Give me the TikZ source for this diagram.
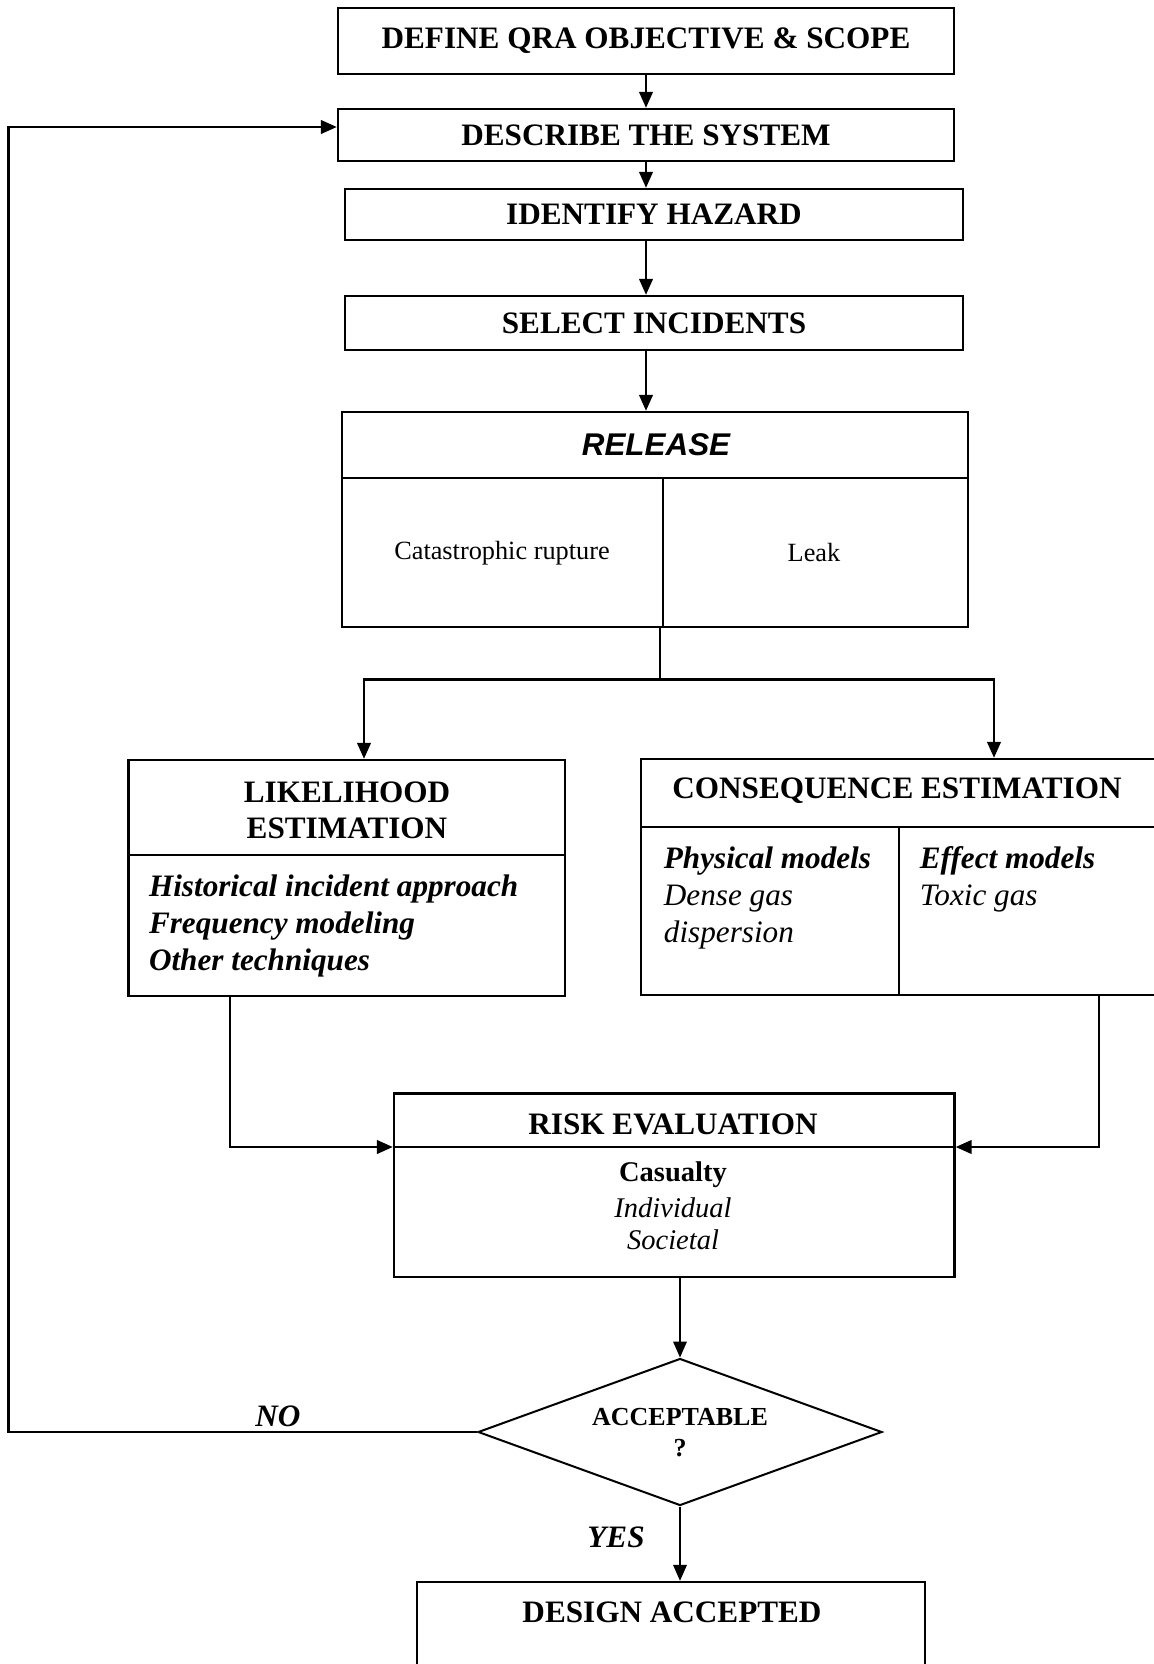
\documentclass[tikz,border=0pt]{standalone}
\usepackage{fontspec}
\setmainfont{Liberation Serif}
\newfontfamily\arialf{Liberation Sans}
\usetikzlibrary{arrows.meta,shapes.geometric}
\begin{document}
\begin{tikzpicture}[x=0.5pt,y=-0.5pt,
  box/.style={draw, line width=1.2pt, inner sep=0pt},
  big/.style={font=\fontsize{15.6}{18}\selectfont\bfseries},
  bigit/.style={font=\fontsize{15.6}{18}\selectfont\bfseries\itshape},
  itx/.style={font=\fontsize{15.6}{18}\selectfont\itshape},
  txt/.style={inner sep=0pt},
  ln/.style={line width=1.2pt},
  arr/.style={line width=1.2pt, -{Triangle[length=8pt,width=6.8pt]}},
  thinarr/.style={line width=0.9pt, -{Triangle[length=8pt,width=6.8pt]}}]
\useasboundingbox (0,0) rectangle (1153,1664);

% top chain
\node[box, minimum width=308pt, minimum height=33pt, big] (define) at (646,41) {DEFINE QRA OBJECTIVE \& SCOPE};
\node[box, minimum width=308pt, minimum height=26pt, big] (describe) at (646,135) {DESCRIBE THE SYSTEM};
\node[box, minimum width=309pt, minimum height=25.5pt, big] (identify) at (654,214.5) {IDENTIFY HAZARD};
\node[box, minimum width=309pt, minimum height=27pt, big] (select) at (654,323) {SELECT INCIDENTS};

% release
\node[box, minimum width=313pt, minimum height=107.5pt] (release) at (655,519.5) {};
\draw[ln] (release.west |- 0,478) -- (release.east |- 0,478);
\draw[ln] (663,478) -- (release.south -| 663,0);
\node[txt, font=\arialf\bfseries\itshape\fontsize{15.7}{18}\selectfont] (reltitle) at (656,445) {RELEASE};
\node[txt, font=\fontsize{13.15}{16}\selectfont] (rupt) at (502,553) {Catastrophic rupture};
\node[txt, font=\fontsize{13.15}{16}\selectfont] (leak) at (814,552) {Leak};

% likelihood
\node[box, minimum width=218.25pt, minimum height=118pt] (likeli) at (346.75,878) {};
\draw[ln] (likeli.west |- 0,855) -- (likeli.east |- 0,855);
\node[txt, big] (lt1) at (347,792) {LIKELIHOOD};
\node[txt, big] (lt2) at (347,828) {ESTIMATION};
\node[txt, bigit, anchor=base west] (l1) at (148.6,896) {Historical incident approach};
\node[txt, bigit, anchor=base west] (l2) at (148.6,933) {Frequency modeling};
\node[txt, bigit, anchor=base west] (l3) at (148.6,970) {Other techniques};

% consequence
\node[box, minimum width=262pt, minimum height=118pt] (conseq) at (903,877) {};
\draw[ln] (conseq.west |- 0,827) -- (conseq.east |- 0,827);
\draw[ln] (899,827) -- (conseq.south -| 899,0);
\node[txt, big] (ct) at (897,791) {CONSEQUENCE ESTIMATION};
\node[txt, bigit, anchor=base west] (c1) at (663.5,868) {Physical models};
\node[txt, itx, anchor=base west] (c2) at (663.5,905) {Dense gas};
\node[txt, itx, anchor=base west] (c3) at (663.5,942) {dispersion};
\node[txt, bigit, anchor=base west] (c4) at (919.5,868) {Effect models};
\node[txt, itx, anchor=base west] (c5) at (919.5,905) {Toxic gas};

% risk
\node[box, minimum width=280.25pt, minimum height=91.75pt] (risk) at (674.25,1185.25) {};
\draw[ln] (risk.west |- 0,1147) -- (risk.east |- 0,1147);
\node[txt, big] (rt) at (673,1124) {RISK EVALUATION};
\node[txt, font=\fontsize{14.25}{16}\selectfont\bfseries] (r1) at (673,1175) {Casualty};
\node[txt, font=\fontsize{14.25}{16}\selectfont\itshape] (r2) at (673,1208) {Individual};
\node[txt, font=\fontsize{14.25}{16}\selectfont\itshape] (r3) at (673,1240) {Societal};

% decision
\node[diamond, draw, line width=1pt, minimum width=202pt, minimum height=73.5pt, inner sep=0pt] (dia) at (680,1432) {};
\node[txt, font=\fontsize{13}{15}\selectfont\bfseries] (acc) at (680,1417) {ACCEPTABLE};
\node[txt, font=\fontsize{13}{15}\selectfont\bfseries] (q) at (680,1448) {?};

% design accepted
\node[box, minimum width=254pt, minimum height=54pt] (design) at (671,1636) {};
\node[txt, big] (dt) at (672,1612) {DESIGN ACCEPTED};

% labels
\node[txt, bigit] (no) at (278,1416) {NO};
\node[txt, bigit] (yes) at (616,1537) {YES};

% connectors
\draw[arr] (define.south) -- (describe.north);
\draw[arr] (describe.south) -- (describe.south |- identify.north);
\draw[arr] (identify.south -| describe.south) -- (select.north -| describe.south);
\draw[arr] (select.south -| describe.south) -- (release.north -| describe.south);
\coordinate (split) at (660,679.5);
\draw[ln] (release.south -| split) -- (split);
\draw[arr] (split) -| (likeli.north -| 364,0);
\draw[arr] (split) -| (conseq.north -| 994,0);
\draw[arr] (likeli.south -| 230,0) |- (risk.west |- 0,1147);
\draw[arr] (conseq.south -| 1099,0) |- (risk.east |- 0,1147);
\draw[thinarr] (risk.south -| dia.north) -- (dia.north);
\draw[thinarr] (dia.south) -- (dia.south |- design.north);
\coordinate (corner) at (8.5,1432);
\draw[arr] (dia.west) -- (corner) |- (describe.west |- 0,127);
\end{tikzpicture}
\end{document}
